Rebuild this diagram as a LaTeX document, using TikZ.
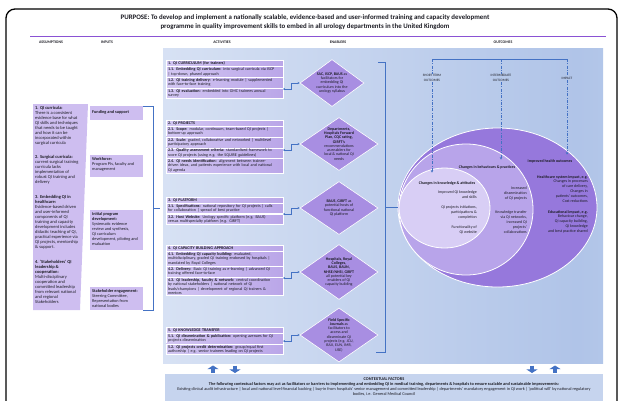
\documentclass[tikz,border=0pt]{standalone}
\usepackage{fontspec}
\setmainfont{Carlito}
\usetikzlibrary{shapes.geometric,arrows.meta,positioning,calc}

\definecolor{ink}{RGB}{28,28,36}
\definecolor{titlerule}{RGB}{138,82,212}
\definecolor{lilac}{RGB}{206,190,240}
\definecolor{actL}{RGB}{210,198,242}
\definecolor{actR}{RGB}{186,166,232}
\definecolor{dia}{RGB}{168,142,226}
\definecolor{ringout}{RGB}{150,120,220}
\definecolor{ringmid}{RGB}{184,164,234}
\definecolor{ringin}{RGB}{216,206,245}
\definecolor{linkblue}{RGB}{68,114,196}
\definecolor{ctxfill}{RGB}{198,212,238}
\definecolor{fieldA}{RGB}{236,241,250}
\definecolor{fieldB}{RGB}{176,196,232}
\definecolor{fieldC}{RGB}{200,214,238}

\pgfdeclarehorizontalshading{fieldshade}{100bp}{color(0bp)=(fieldA); color(72bp)=(fieldB); color(100bp)=(fieldC)}

\newcommand\fsz[2]{\fontsize{#1}{#2}\selectfont}

\tikzset{
  every node/.style={text=ink},
  colhead/.style={font=\bfseries\fsz{3.9}{4.5}, inner sep=0},
  actrow/.style={draw=white, line width=0.4bp, left color=actL, right color=actR,
    text width=113bp, inner xsep=1.8bp, inner ysep=1.2bp, align=left, font=\fsz{4.1}{4.4}},
  inbox/.style={fill=lilac, anchor=north west, inner sep=0, minimum width=53bp},
  intext/.style={anchor=north west, inner sep=0, align=left, font=\fsz{4.3}{4.9}},
  asstext/.style={anchor=north west, inner sep=0, align=left, font=\fsz{4.5}{5}},
  dshape/.style={diamond, fill=dia, draw=white, line width=0.6bp, inner sep=0},
  dtext/.style={align=center, inner sep=0, font=\fsz{4.0}{4.3}},
  ring/.style={ellipse, draw=white, line width=0.8bp, inner sep=0},
  ringtext/.style={inner sep=0, align=right, anchor=north east, font=\fsz{4.0}{5}},
  ringhead/.style={inner sep=0, font=\bfseries\fsz{4.0}{5}},
  otag/.style={inner sep=0.6bp, align=center, font=\fsz{3.4}{4.3}},
  brk/.style={draw=linkblue, line width=0.9bp},
  conn/.style={draw=linkblue, line width=0.6bp, <->, >={Stealth[length=2.2bp,width=2.2bp]}},
  dashdrop/.style={draw=linkblue, line width=0.7bp, dash pattern=on 3bp off 1.4bp on 0.8bp off 1.4bp},
  fatarrow/.style={draw=linkblue, line width=4.2bp, -{Triangle[width=11bp,length=3.6bp]}},
}

\begin{document}
\begin{tikzpicture}[x=1bp,y=-1bp]
\useasboundingbox (0,0) rectangle (624,400);

% outer frame, open at the foot of the page
\draw[line width=1.3bp, rounded corners=9bp] (6,420) -- (6,9) -- (617,9) -- (617,420);

% purpose statement and column headings
\node[font=\bfseries\fsz{6.9}{9.2}, align=center, inner sep=0] (title) at (305,22.5)
  {PURPOSE: To develop and implement a nationally scalable, evidence-based and user-informed training and capacity development\\
   programme in quality improvement skills to embed in all urology departments in the United Kingdom};
\draw[titlerule, line width=1.1bp] (30,36.5) -- (606,36.5);

\node[colhead] (hA) at (51,42.5) {ASSUMPTIONS};
\node[colhead] (hI) at (107,42.5) {INPUTS};
\node[colhead] (hC) at (222,42.5) {ACTIVITIES};
\node[colhead] (hE) at (338,42.5) {ENABLERS};
\node[colhead] (hO) at (503,42.5) {OUTCOMES};

% shaded working area behind activities, enablers and outcomes
\path[shading=fieldshade] (163,48) rectangle (603,363);

% assumptions panel
\fill[lilac] (33,104) -- (88,104) -- (80,310) -- (33,310) -- cycle;
\node[asstext] (as1) at (35,106.3) {\textbf{1. QI curricula:}\\There is a consistent\\evidence base for what\\QI skills and techniques\\that needs to be taught\\and how it can be\\incorporated within\\surgical curricula};
\node[asstext] (as2) at (35,155.3) {\textbf{2. Surgical curricula:}\\current surgical training\\curricula lacks\\implementation of\\robust QI training and\\delivery};
\node[asstext] (as3) at (35,195.3) {\textbf{3. Embedding QI in}\\\textbf{healthcare:}\\Evidence-based driven\\and user-informed\\components of QI\\training and capacity\\development includes\\didactic teaching of QI,\\practical experience via\\QI projects, mentorship\\\& support.};
\node[asstext] (as4) at (35,260.3) {\textbf{4. `Stakeholders' QI}\\\textbf{leadership \&}\\\textbf{cooperation:}\\Multi-disciplinary\\cooperation and\\committed leadership\\from relevant national\\and regional\\Stakeholders};

% inputs
\node[inbox, minimum height=14bp] (in1) at (90,106) {};
\node[intext] (in1t) at ($(in1.north west)+(2,4)$) {\textbf{Funding and support}};
\node[inbox, minimum height=22bp] (in2) at (90,155) {};
\node[intext] (in2t) at ($(in2.north west)+(2,2.6)$) {\textbf{Workforce:}\\Program PIs, faculty and\\management};
\node[inbox, minimum height=40bp] (in3) at (90,210) {};
\node[intext] (in3t) at ($(in3.north west)+(2,2.6)$) {\textbf{Initial program}\\\textbf{development:}\\Systematic evidence\\review and synthesis,\\QI curriculum\\development, piloting and\\evaluation};
\node[inbox, minimum height=23bp] (in4) at (90,287) {};
\node[intext] (in4t) at ($(in4.north west)+(2,2.6)$) {\textbf{Stakeholder engagement:}\\Steering Committee,\\Representation from\\national bodies};

% bracket gathering the inputs
\draw[brk] (in1.north east) -- ++(10,0) |- (in4.south east);
\draw[brk] ($(in1.north east)!0.5!(in4.south east)+(10,0)$) -- ++(7,0);

% activities
\node[actrow, anchor=north west] (a1) at (166,60) {\textbf{1. QI CURRICULUM (for trainers)}};
\node[actrow, below=0pt of a1] (a1x) {\textbf{1.1. Embedding QI curriculum:} into surgical curricula via ISCP\\| top-down, phased approach};
\node[actrow, below=0pt of a1x] (a1y) {\textbf{1.2. QI training delivery:} e-learning module | supplemented\\with face-to-face training};
\node[actrow, below=0pt of a1y] (a1z) {\textbf{1.3. QI evaluation:} embedded into GMC trainees annual\\survey};

\node[actrow, anchor=north west] (a2) at (166,120) {\textbf{2. QI PROJECTS}};
\node[actrow, below=0pt of a2] (a2w) {\textbf{2.1. Scope:} modular, continuum, team-based QI projects |\\bottom-up approach};
\node[actrow, below=0pt of a2w] (a2x) {\textbf{2.2. Scale:} graded, collaborative and networked | multilevel\\participatory approach};
\node[actrow, below=0pt of a2x] (a2y) {\textbf{2.3. Quality assessment criteria:} standardised framework to\\score QI projects (using e.g. the SQUIRE guidelines)};
\node[actrow, below=0pt of a2y] (a2z) {\textbf{2.4. QI needs identification:} alignment between trainee-\\driven ideas, and patients experience with local and national\\QI agenda};

\node[actrow, anchor=north west] (a3) at (166,197) {\textbf{3. QI PLATFORM}};
\node[actrow, below=0pt of a3] (a3x) {\textbf{3.1. Specifications:} national repository for QI projects | calls\\for collaboration | spread of best practice};
\node[actrow, below=0pt of a3x] (a3y) {\textbf{3.2. Host Website:} Urology specific platform (e.g. BAUS)\\versus multispecialty platform (e.g. GIRFT)};

\node[actrow, anchor=north west] (a4) at (166,245) {\textbf{4. QI CAPACITY BUILDING APPROACH}};
\node[actrow, below=0pt of a4] (a4x) {\textbf{4.1. Embedding QI capacity building:} evaluated,\\multidisciplinary, graded QI training endorsed by hospitals |\\mandated by Royal Colleges};
\node[actrow, below=0pt of a4x] (a4y) {\textbf{4.2. Delivery:} Basic QI training as e-learning | advanced QI\\training offered face-to-face};
\node[actrow, below=0pt of a4y] (a4z) {\textbf{4.3. QI leadership, faculty \& network:} central coordination\\by national stakeholders | national network of QI\\leads/champions | development of regional QI trainers \&\\mentors};

\node[actrow, anchor=north west] (a5) at (166,327) {\textbf{5. QI KNOWLEDGE TRANSFER}};
\node[actrow, below=0pt of a5] (a5x) {\textbf{5.1. QI dissemination \& publication:} opening avenues for QI\\projects dissemination};
\node[actrow, below=0pt of a5x] (a5y) {\textbf{5.2. QI projects credit determination:} group/equal first\\authorship | e.g. senior trainees leading on QI projects};

% enablers
\node[dshape, minimum width=64bp, minimum height=47bp] (d1) at (332,83) {};
\node[dtext] (d1t) at (d1.center) {\textbf{SAC, ISCP, BAUS} as\\facilitators for\\embedding QI\\curriculum into the\\urology syllabus};
\node[dshape, minimum width=78bp, minimum height=53bp] (d2) at (339,144) {};
\node[dtext] (d2t) at (d2.center) {\textbf{Departments,}\\\textbf{Hospitals Forward}\\\textbf{Plan, CQC rating,}\\\textbf{GIRFT's}\\recommendations\\as enablers for\\local \& national QI\\needs};
\node[dshape, minimum width=78bp, minimum height=53bp] (d3) at (339,208) {};
\node[dtext] (d3t) at (d3.center) {\textbf{BAUS, GIRFT} as\\potential hosts of\\functional national\\QI platform};
\node[dshape, minimum width=78bp, minimum height=55bp] (d4) at (339,272) {};
\node[dtext] (d4t) at (d4.center) {\textbf{Hospitals, Royal}\\\textbf{Colleges,}\\\textbf{BAUS, BAUN,}\\\textbf{NHSE/NHSI, GIRFT}\\all potential key\\enablers of QI\\capacity building};
\node[dshape, minimum width=78bp, minimum height=54bp] (d5) at (339,335) {};
\node[dtext] (d5t) at (d5.center) {\textbf{Field Specific}\\\textbf{Journals} as\\facilitators to\\access and\\disseminate QI\\projects (e.g. JCU,\\BJUI, EUN, IMR,\\IJSE)};

% activity <-> enabler links
\draw[conn] ($(d1.west -| a1x.east)+(0,6)$) -- ++(8,0) |- (d1.west);
\draw[conn] ($(d2.west -| a2x.east)+(0,6)$) -- ++(8,0) |- (d2.west);
\draw[conn] ($(d3.west -| a3x.east)+(0,6)$) -- ++(8,0) |- (d3.west);
\draw[conn] ($(d4.west -| a4x.east)+(0,6)$) -- ++(8,0) |- (d4.west);
\draw[conn] ($(d5.west -| a5x.east)+(0,6)$) -- ++(8,0) |- (d5.west);

% outcome rings
\node[ring, fill=ringout, minimum width=199bp, minimum height=159bp] (o3) at (497.5,207.5) {};
\node[ring, fill=ringmid, minimum width=134bp, minimum height=131bp] (o2) at (466,209.5) {};
\node[ring, fill=ringin, minimum width=91bp, minimum height=80bp] (o1) at (444.5,208) {};

% bracket gathering the enablers
\coordinate (rbTop) at (378,62);
\coordinate (rbBot) at (376,352);
\coordinate (rbMid) at (385,207.5);
\draw[brk] (rbTop) -- ++(7,0) |- (rbBot);
\draw[brk] (rbMid) -- (o3.west);

% ring texts
\node[ringhead] (k0) at (447,183) {Changes in knowledge \& attitudes};
\node[ringtext] (k1) at (477,191) {Improved QI knowledge\\and skills};
\node[ringtext] (k2) at (477,206) {QI projects initiations,\\participations \&\\completion};
\node[ringtext] (k3) at (477,226) {Functionality of\\QI website};
\node[ringhead] (b0) at (487,167) {Changes in behaviours \& practices};
\node[ringtext] (b1) at (527,187) {Increased\\dissemination\\of QI projects};
\node[ringtext] (b2) at (527,211) {Knowledge transfer\\via QI networks,\\increased QI\\projects'\\collaborations};
\node[ringhead] (h0) at (550,161) {Improved health outcomes};
\node[ringtext] (h1) at (588,175) {\textbf{Healthcare system impact, e.g.}\\Changes in processes\\of care delivery,\\Changes in\\patients' outcomes,\\Cost reductions};
\node[ringtext] (h2) at (588,210) {\textbf{Educational impact, e.g.}\\Behaviour change,\\QI capacity building,\\QI knowledge\\and best practice shared};

% outcome horizons
\node[otag] (l1) at (432,78) {SHORT TERM\\OUTCOMES};
\node[otag] (l2) at (501,78) {INTERMEDIATE\\OUTCOMES};
\node[otag] (l3) at (567,78) {IMPACT};
\coordinate (obar) at (500,59);
\draw[brk, line width=0.8bp] (l1 |- obar) -- (l3 |- obar);
\draw[dashdrop] (l1 |- obar) -- (l1.north);
\draw[dashdrop] (l2 |- obar) -- (l2.north);
\draw[dashdrop] (l3 |- obar) -- (l3.north);
\draw[dashdrop, -{Stealth[length=2.6bp,width=2.6bp]}] (l1.south) -- ($(l1.south |- o1.north)+(0,5)$);
\draw[dashdrop, -{Stealth[length=2.6bp,width=2.6bp]}] (l2.south) -- ($(l2.south |- o2.north)+(0,16)$);
\draw[dashdrop, -{Stealth[length=2.6bp,width=2.6bp]}] (l3.south) -- ($(l3.south |- o3.north)+(0,27)$);

% contextual factors
\node[fill=ctxfill, anchor=north west, minimum width=438bp, minimum height=30bp, inner sep=0] (ctx) at (165,374) {};
\node[align=center, inner sep=0, anchor=north, font=\fsz{4.3}{5}] (ctxt) at (384,377.6)
  {\textbf{CONTEXTUAL FACTORS}\\
   \textbf{The following contextual factors may act as facilitators or barriers to implementing and embedding QI in medical training, departments \& hospitals to ensure scalable and sustainable improvements:}\\
   Existing clinical audit infrastructure | local and national level financial backing | buy-in from hospitals' senior management and committed leadership | departments' mandatory engagement in QI work | `political will' by national regulatory\\
   bodies, i.e. General Medical Council};

\draw[fatarrow] ($(ctx.north west)+(48,-1)$) -- ++(0,-7.5);
\draw[fatarrow] ($(ctx.north west)+(70,-8.5)$) -- ++(0,7.5);
\draw[fatarrow] ($(ctx.north west)+(367,-8.5)$) -- ++(0,7.5);
\draw[fatarrow] ($(ctx.north west)+(390,-1)$) -- ++(0,-7.5);

\end{tikzpicture}
\end{document}
